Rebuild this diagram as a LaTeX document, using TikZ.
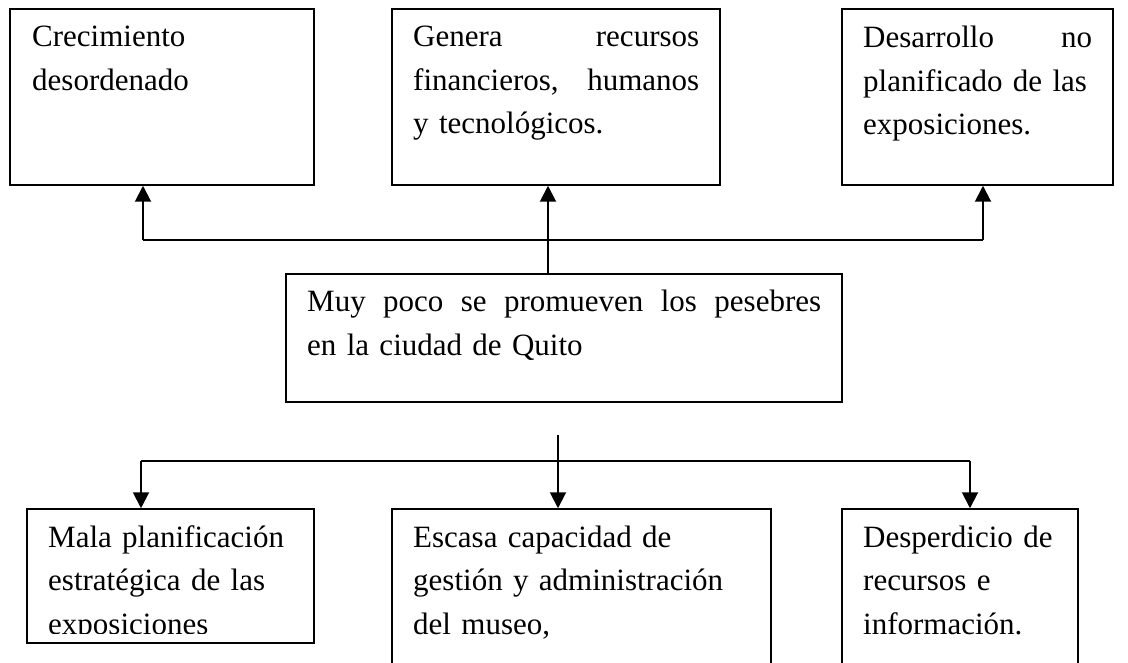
\documentclass[tikz,border=0pt]{standalone}
\usepackage{fontspec}
\setmainfont{Liberation Serif}
\usetikzlibrary{arrows.meta,fit,calc}
\begin{document}
\begin{tikzpicture}[x=1pt,y=-1pt,
  box/.style={draw, line width=1.5pt, inner sep=0pt},
  txt/.style={anchor=base west, inner sep=0pt, align=left, font=\fontsize{31}{43.5}\selectfont},
  link/.style={line width=2pt},
  arr/.style={line width=2pt, -{Triangle[length=16pt,width=16pt]}}]
\clip (0,0) rectangle (1128,663);
\fill[white] (0,0) rectangle (1128,663);
% top row
\node[box, fit={(10,9) (314,185)}] (b1) {};
\node[box, fit={(392,9) (720,185)}] (b2) {};
\node[box, fit={(842,9) (1113,185)}] (b3) {};
\node[txt, text width=260pt] (t1) at (32,47) {Crecimiento\\desordenado};
\node[txt, text width=286pt] (t2) at (413,47) {Genera \hfill recursos\\financieros, \hfill humanos\\y tecnológicos.};
\node[txt, text width=229pt] (t3) at (863,48) {Desarrollo \hfill no\\planificado de las\\exposiciones.};
% center
\node[box, fit={(286,274) (842,402)}] (bc) {};
\node[txt, text width=514pt] (tc) at (307,312) {Muy \hfill poco \hfill se \hfill promueven \hfill los \hfill pesebres\\en la ciudad de Quito};
% bottom row
\node[box, fit={(27,509) (314,643)}] (b4) {};
\node[box, fit={(392,509) (771,700)}] (b5) {};
\node[box, fit={(842,509) (1078,700)}] (b6) {};
\begin{scope}
\clip (27,509) rectangle (314,633);
\node[txt, text width=245pt] (t4) at (48,547) {Mala planificación\\estratégica de las\\exposiciones};
\end{scope}
\node[txt, text width=337pt] (t5) at (413,547) {Escasa capacidad de\\gestión y administración\\del museo,};
\node[txt, text width=215pt] (t6) at (863,547) {Desperdicio de\\recursos e\\información.};
% upper connectors
\draw[arr] ([xshift=-16pt]bc.north) -- ([xshift=-16pt]bc.north |- b2.south);
\coordinate (hl) at (143,240);
\coordinate (hr) at (983,240);
\draw[link] (hl) -- (hr);
\draw[arr] (hl) -- (hl |- b1.south);
\draw[arr] (hr) -- (hr |- b3.south);
% lower connectors
\coordinate (src) at (558,435);
\draw[arr] (src) -- (src |- b5.north);
\coordinate (bl) at (141,461);
\coordinate (br) at (970,461);
\draw[link] (bl) -- (br);
\draw[arr] (bl) -- (bl |- b4.north);
\draw[arr] (br) -- (br |- b6.north);
\end{tikzpicture}
\end{document}
